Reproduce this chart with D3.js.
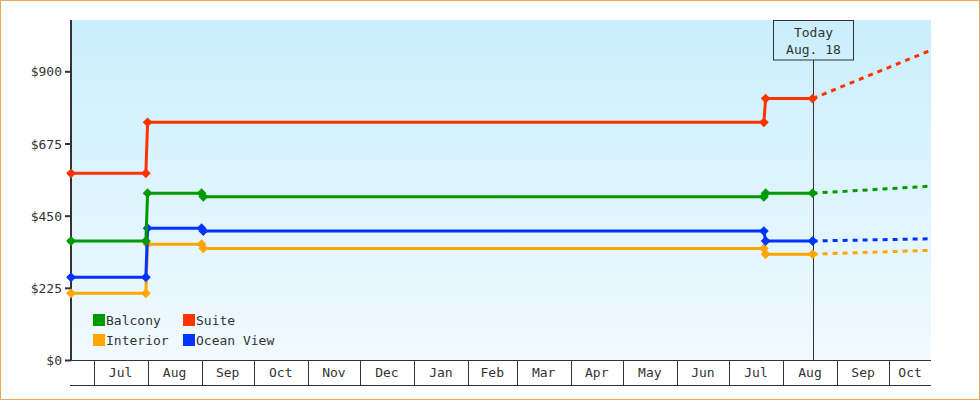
<!DOCTYPE html>
<html>
<head>
<meta charset="utf-8">
<script src="https://cdn.jsdelivr.net/npm/d3@7"></script>
<style>
  html, body { margin: 0; padding: 0; background: #fff; }
  svg text { font-family: "DejaVu Sans Mono", monospace; font-size: 13px; fill: #333; }
</style>
</head>
<body>
<svg id="chart" width="980" height="400"></svg>
<script>
// price history, one array per cabin type
const seriesNames = ["Balcony", "Interior", "Suite", "Ocean View"];

const balconyDates = ["2014-06-18", "2014-07-31", "2014-08-01", "2014-09-01", "2014-09-02", "2015-07-21", "2015-07-22", "2015-08-18"];
const balconyPrices = [371, 371, 520, 520, 509, 509, 520, 520];

const interiorDates = ["2014-06-18", "2014-07-31", "2014-08-01", "2014-09-01", "2014-09-02", "2015-07-21", "2015-07-22", "2015-08-18"];
const interiorPrices = [208, 208, 361, 361, 348, 348, 330, 330];

const suiteDates = ["2014-06-18", "2014-07-31", "2014-08-01", "2015-07-21", "2015-07-22", "2015-08-18"];
const suitePrices = [582, 582, 741, 741, 815, 815];

const oceanDates = ["2014-06-18", "2014-07-31", "2014-08-01", "2014-09-01", "2014-09-02", "2015-07-21", "2015-07-22", "2015-08-18"];
const oceanPrices = [258, 258, 411, 411, 402, 402, 371, 371];

// projected prices after today
const forecastDates = ["2015-08-18", "2015-10-25"];
const balconyForecast = [520, 542];
const interiorForecast = [330, 342];
const suiteForecast = [815, 966];
const oceanForecast = [371, 378];

const yTicks = [0, 225, 450, 675, 900];
const todayDate = "2015-08-18";
const todayLabel = ["Today", "Aug. 18"];
const domainDates = ["2014-06-18", "2015-10-25"];

const colors = {
    "Balcony": "#009900",
    "Interior": "#ffa500",
    "Suite": "#ff3300",
    "Ocean View": "#0033ff"
};

const parse = d3.timeParse("%Y-%m-%d");

function build(dates, prices) {
    return dates.map((d, i) => ({ date: parse(d), price: prices[i] }));
}

const series = {
    "Balcony": { hist: build(balconyDates, balconyPrices), proj: build(forecastDates, balconyForecast) },
    "Interior": { hist: build(interiorDates, interiorPrices), proj: build(forecastDates, interiorForecast) },
    "Suite": { hist: build(suiteDates, suitePrices), proj: build(forecastDates, suiteForecast) },
    "Ocean View": { hist: build(oceanDates, oceanPrices), proj: build(forecastDates, oceanForecast) }
};

const margin = { left: 71, top: 20, right: 49, bottom: 40 };
const width = 980, height = 400;
const plotW = width - margin.left - margin.right;
const plotH = height - margin.top - margin.bottom;

const svg = d3.select("#chart");

// frame
svg.append("rect")
    .attr("x", 0.5).attr("y", 0.5)
    .attr("width", width - 1).attr("height", height - 1)
    .attr("fill", "#fff")
    .attr("stroke", "#e8a860");

const defs = svg.append("defs");
const grad = defs.append("linearGradient")
    .attr("id", "bg")
    .attr("x1", 0).attr("y1", 0).attr("x2", 0).attr("y2", 1);
grad.append("stop").attr("offset", "0%").attr("stop-color", "#caeefc");
grad.append("stop").attr("offset", "100%").attr("stop-color", "#f1faff");

const x = d3.scaleTime()
    .domain(domainDates.map(parse))
    .range([0, plotW]);

const y = d3.scaleLinear()
    .domain([0, 1060])
    .range([plotH, 0]);

const g = svg.append("g").attr("transform", `translate(${margin.left},${margin.top})`);

g.append("rect")
    .attr("width", plotW)
    .attr("height", plotH)
    .attr("fill", "url(#bg)");

// x axis: month separators with labels centred in the visible part of each month
const [d0, d1] = x.domain();
const monthStarts = d3.timeMonth.range(d3.timeMonth.ceil(d0), d1);

const xAxis = g.append("g")
    .attr("transform", `translate(0,${plotH})`)
    .call(d3.axisBottom(x).tickValues(monthStarts).tickSize(25).tickFormat(""));
xAxis.select(".domain").remove();
xAxis.selectAll(".tick line").attr("stroke", "#333").attr("shape-rendering", "crispEdges");

g.append("line")
    .attr("x1", -1).attr("x2", plotW)
    .attr("y1", plotH + 0.5).attr("y2", plotH + 0.5)
    .attr("stroke", "#333");
g.append("line")
    .attr("x1", -1).attr("x2", plotW)
    .attr("y1", plotH + 25.5).attr("y2", plotH + 25.5)
    .attr("stroke", "#333");

const monthSpans = [d3.timeMonth.floor(d0)].concat(monthStarts).map(m => {
    const a = Math.max(x(m), 0);
    const b = Math.min(x(d3.timeMonth.offset(m, 1)), plotW);
    return { m, a, b };
}).filter(s => s.b - s.a > 30);

g.append("g").selectAll("text")
    .data(monthSpans)
    .join("text")
    .attr("x", d => (d.a + d.b) / 2)
    .attr("y", plotH + 17)
    .attr("text-anchor", "middle")
    .text(d => d3.timeFormat("%b")(d.m));

// y axis
const yAxis = g.append("g")
    .call(d3.axisLeft(y).tickValues(yTicks).tickSize(6).tickFormat(d => "$" + d));
yAxis.select(".domain").remove();
yAxis.selectAll(".tick line").attr("stroke", "#333").attr("stroke-width", 2);
yAxis.selectAll(".tick text").attr("x", -9).attr("dy", "0.35em");
g.append("line")
    .attr("x1", 0).attr("x2", 0)
    .attr("y1", 0).attr("y2", plotH + 1)
    .attr("stroke", "#333")
    .attr("stroke-width", 2);

// today marker
const tx = Math.round(x(parse(todayDate))) + 0.5;
g.append("line")
    .attr("x1", tx).attr("x2", tx)
    .attr("y1", 40).attr("y2", plotH)
    .attr("stroke", "#333");
g.append("rect")
    .attr("x", tx - 40).attr("y", 0.5)
    .attr("width", 80).attr("height", 39.5)
    .attr("fill", "none")
    .attr("stroke", "#333");
g.selectAll(".today-text")
    .data(todayLabel)
    .join("text")
    .attr("class", "today-text")
    .attr("x", tx)
    .attr("y", (d, i) => 17 + i * 17)
    .attr("text-anchor", "middle")
    .text(d => d);

// lines
const line = d3.line()
    .x(d => x(d.date))
    .y(d => y(d.price));

const drawOrder = ["Interior", "Ocean View", "Balcony", "Suite"];
const diamond = d3.symbol().type(d3.symbolSquare).size(48);

drawOrder.forEach(name => {
    const s = series[name];
    g.append("path")
        .datum(s.proj)
        .attr("d", line)
        .attr("fill", "none")
        .attr("stroke", colors[name])
        .attr("stroke-width", 3)
        .attr("stroke-dasharray", "5,5");
    g.append("path")
        .datum(s.hist)
        .attr("d", line)
        .attr("fill", "none")
        .attr("stroke", colors[name])
        .attr("stroke-width", 3);
    g.append("g").selectAll("path")
        .data(s.hist)
        .join("path")
        .attr("d", diamond)
        .attr("transform", d => `translate(${x(d.date)},${y(d.price)}) rotate(45)`)
        .attr("fill", colors[name]);
});

// legend
const legend = g.append("g").attr("transform", "translate(22,294)");
const items = legend.selectAll("g")
    .data(seriesNames)
    .join("g")
    .attr("transform", (d, i) => `translate(${Math.floor(i / 2) * 90},${(i % 2) * 20})`);
items.append("rect")
    .attr("width", 12).attr("height", 12)
    .attr("fill", d => colors[d]);
items.append("text")
    .attr("x", 13).attr("y", 11)
    .text(d => d);
</script>
</body>
</html>
